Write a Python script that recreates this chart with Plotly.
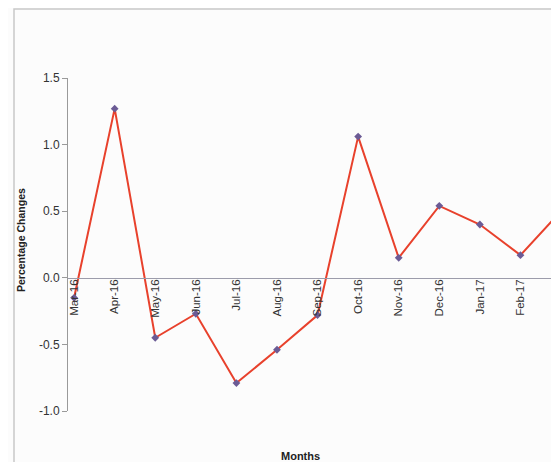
import plotly.graph_objects as go

months = ["Mar-16", "Apr-16", "May-16", "Jun-16", "Jul-16", "Aug-16", "Sep-16",
          "Oct-16", "Nov-16", "Dec-16", "Jan-17", "Feb-17", "Mar-17"]
pct_change = [-0.15, 1.27, -0.45, -0.27, -0.79, -0.54, -0.28,
              1.06, 0.15, 0.54, 0.40, 0.17, 0.50]
y_tick_vals = [1.5, 1.0, 0.5, 0.0, -0.5, -1.0]
y_tick_text = ["1.5", "1.0", "0.5", "0.0", "-0.5", "-1.0"]

FONT = "Arial, Liberation Sans, sans-serif"

# page body has an 8px margin; figure is sized/positioned to compensate
OFF = 8
W, H = 559 - OFF, 470 - 2 * OFF
L, T = 68 - OFF, 78 - OFF
B = H - (411 - OFF)
pw, ph = W - L, H - T - B


def px_x(page_x):
    return (page_x - OFF - L) / pw


def px_y(page_y):
    return (H - B - (page_y - OFF)) / ph


fig = go.Figure()
fig.add_trace(go.Scatter(
    x=months, y=pct_change, mode="lines+markers",
    line=dict(color="#e8412c", width=2),
    marker=dict(symbol="diamond", size=6, color="#6b5b95"),
    showlegend=False,
))

y_min, y_max = -1.0, 1.5
fig.update_layout(
    width=W, height=H,
    margin=dict(l=L, r=0, t=T, b=B, autoexpand=False),
    paper_bgcolor="#fcfcfc", plot_bgcolor="#fcfcfc",
    font=dict(family=FONT, color="#333333"),
    xaxis=dict(
        type="category", range=[-0.15, 11.95], automargin=False,
        anchor="free", position=(0 - y_min) / (y_max - y_min),
        showline=True, linecolor="#9c9cab", linewidth=1,
        showgrid=False, zeroline=False, ticks="",
        tickangle=-90, ticklabelstandoff=-4,
        tickfont=dict(size=11.5, color="#333333"),
    ),
    yaxis=dict(
        range=[y_min, y_max], tickvals=y_tick_vals, ticktext=y_tick_text,
        automargin=False,
        showline=True, linecolor="#9a9a9a", linewidth=1,
        ticks="outside", ticklen=5, tickcolor="#9a9a9a",
        showgrid=False, zeroline=False,
        tickfont=dict(size=12, color="#333333"),
    ),
    annotations=[
        dict(text="<b>Months</b>", xref="paper", yref="paper",
             x=px_x(300), y=px_y(456), xanchor="center", yanchor="middle",
             showarrow=False, font=dict(size=11, color="#222222", family=FONT)),
        dict(text="<b>Percentage Changes</b>", xref="paper", yref="paper",
             x=px_x(21), y=px_y(240), xanchor="center", yanchor="middle",
             textangle=-90, showarrow=False, font=dict(size=10.5, color="#222222", family=FONT)),
    ],
    shapes=[dict(
        type="rect", xref="paper", yref="paper",
        x0=px_x(14), x1=1.1, y0=-0.3, y1=px_y(9),
        line=dict(color="#c8c8c8", width=1.5), fillcolor="rgba(0,0,0,0)", layer="below",
    )],
)

fig.write_html("out.html")
